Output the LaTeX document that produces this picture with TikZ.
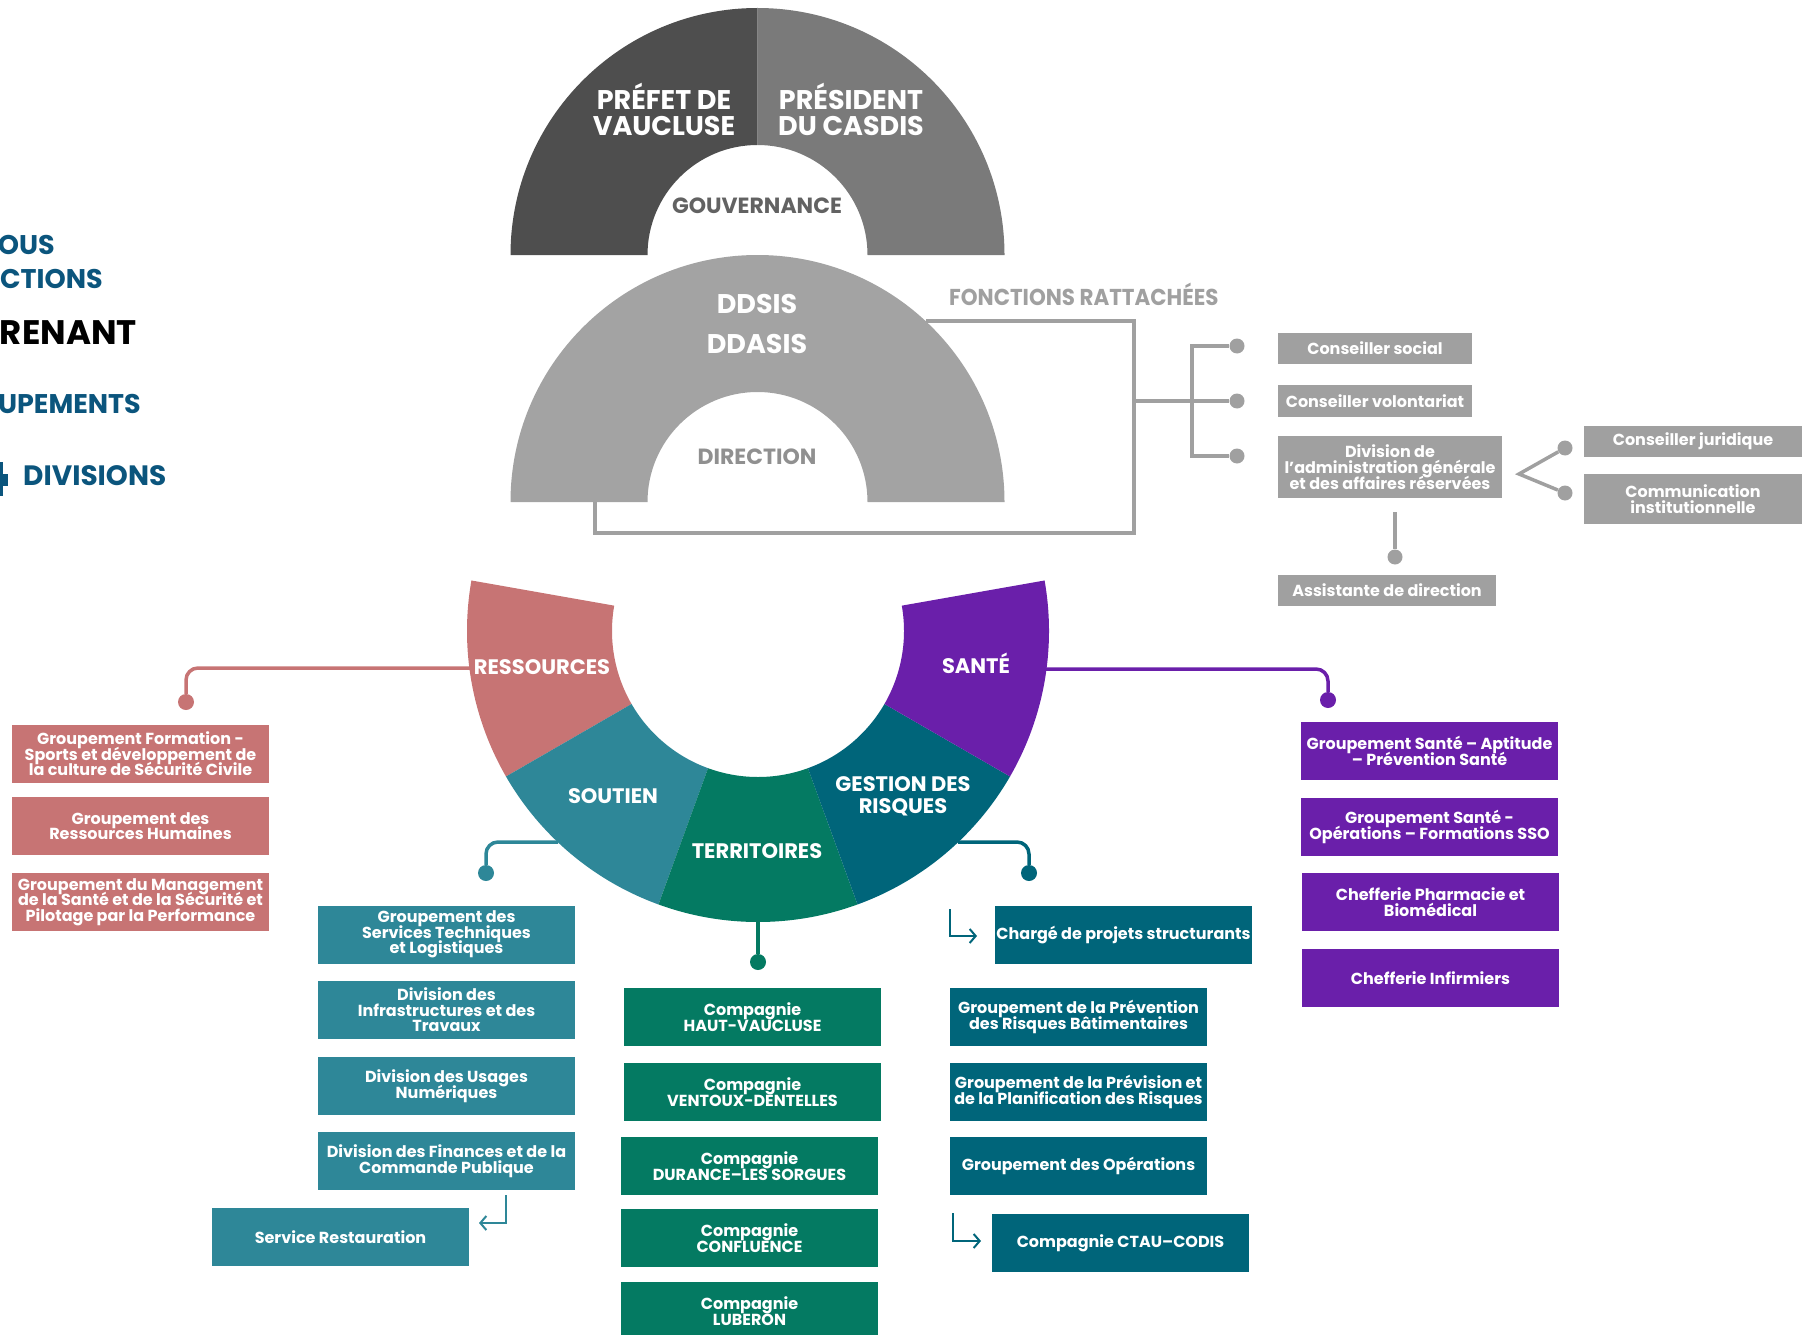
\documentclass[tikz,border=0pt]{standalone}
\usepackage{fontspec}
\setmainfont{Poppins}
\newfontfamily\headfont{Poppins}
\newfontfamily\etroitfont{Poppins}[FakeStretch=0.93]
\usetikzlibrary{arrows.meta}
\AtBeginDocument{\lineskiplimit=-100pt\relax}

\definecolor{prefet}{RGB}{78,78,78}
\definecolor{president}{RGB}{122,122,122}
\definecolor{gouv}{RGB}{98,98,98}
\definecolor{direction}{RGB}{163,163,163}
\definecolor{fonction}{RGB}{160,160,160}
\definecolor{ressources}{RGB}{199,116,116}
\definecolor{soutien}{RGB}{46,135,152}
\definecolor{territoires}{RGB}{4,122,98}
\definecolor{risques}{RGB}{0,101,122}
\definecolor{sante}{RGB}{106,31,170}
\definecolor{legende}{RGB}{11,85,125}

\tikzset{
  box/.style={fill=#1,text=white,align=center,inner sep=0pt,
    minimum width=257,minimum height=58,
    font=\bfseries\fontsize{16}{15.5}\selectfont},
  grisbox/.style={fill=fonction,text=white,align=center,inner sep=0pt,
    minimum height=31,font=\bfseries\fontsize{16}{16}\selectfont},
  dot/.style={circle,fill=#1,inner sep=0pt,minimum size=16},
  lien/.style={draw=#1,line width=3.5,rounded corners=12},
  fil/.style={draw=fonction,line width=3.5},
  renvoi/.style={draw=#1,line width=2,-{Straight Barb[length=6,width=14]}},
  anneau/.style={text=white,align=center,inner sep=0pt,
    font=\headfont\bfseries\fontsize{27}{26}\selectfont},
  pole/.style={text=white,align=center,inner sep=0pt,
    font=\headfont\bfseries\fontsize{21}{22}\selectfont},
  legendetxt/.style={text=legende,inner sep=0pt,
    font=\headfont\bfseries\fontsize{27}{27}\selectfont}
}

\begin{document}
\begin{tikzpicture}[x=1pt,y=-1pt]
  \useasboundingbox (0,0) rectangle (1813,1335);
  \clip (0,0) rectangle (1813,1335);

  % legende (coupee a gauche)
  \node[legendetxt,anchor=base east] (l1) at (55,254) {OUS};
  \node[legendetxt,anchor=base east] (l2) at (103,288) {CTIONS};
  \node[legendetxt,anchor=base east,text=black,
    font=\headfont\bfseries\fontsize{34}{34}\selectfont] (l3) at (137,344) {RENANT};
  \node[legendetxt,anchor=base east] (l4) at (141,413) {UPEMENTS};
  \node[legendetxt,anchor=base west,
    font=\headfont\bfseries\fontsize{28}{28}\selectfont] (l5) at (23,485) {DIVISIONS};
  \fill[legende] (0,462) rectangle (2.5,496);
  \fill[legende] (0,474) rectangle (8,486);

  % fonctions rattachees
  \coordinate (dirA) at (926,321);
  \coordinate (cadre) at (1134,533);
  \coordinate (dirB) at (595,502);
  \coordinate (embr) at (1134,401);
  \coordinate (barre) at (1192,401);
  \draw[fil] (dirA) -| (cadre) -| (dirB);
  \node[dot=fonction,minimum size=15] (p1) at (1237,346) {};
  \node[dot=fonction,minimum size=15] (p2) at (1237,401) {};
  \node[dot=fonction,minimum size=15] (p3) at (1237,456) {};
  \draw[fil] (p1) -| (barre) |- (p3);
  \draw[fil] (embr) -- (p2);

  % gouvernance
  \begin{scope}[shift={(757.5,255)}]
    \fill[prefet] (-247,0) arc[start angle=180,end angle=270,radius=247]
      -- (0,-110) arc[start angle=270,end angle=180,radius=110] -- cycle;
    \fill[president] (0,-247) arc[start angle=270,end angle=360,radius=247]
      -- (110,0) arc[start angle=360,end angle=270,radius=110] -- cycle;
  \end{scope}
  \node[anneau] (prefet) at (664,109) {PRÉFET DE\\VAUCLUSE};
  \node[anneau] (president) at (851,109) {PRÉSIDENT\\DU CASDIS};
  \node[anchor=base,inner sep=0pt,text=gouv,
    font=\headfont\bfseries\fontsize{22}{22}\selectfont] (gouvernance) at (757,213) {GOUVERNANCE};

  % direction
  \begin{scope}[shift={(757.5,502)}]
    \fill[direction] (-247,0) arc[start angle=180,end angle=360,radius=247]
      -- (110,0) arc[start angle=360,end angle=180,radius=110] -- cycle;
  \end{scope}
  \node[anneau,anchor=base,font=\headfont\bfseries\fontsize{27}{27}\selectfont] (ddsis) at (757,313) {DDSIS};
  \node[anneau,anchor=base,font=\headfont\bfseries\fontsize{27}{27}\selectfont] (ddasis) at (757,353) {DDASIS};
  \node[anchor=base,inner sep=0pt,text=fonction!90!black,
    font=\headfont\bfseries\fontsize{22}{22}\selectfont] (direction) at (757,464) {DIRECTION};
  \node[anchor=base west,inner sep=0pt,text=fonction,
    font=\etroitfont\bfseries\fontsize{23}{23}\selectfont] (rattachees) at (949,305) {FONCTIONS RATTACHÉES};

  \node[grisbox,minimum width=194] (social) at (1375,348.5) {Conseiller social};
  \node[grisbox,minimum width=194,minimum height=32] (volontariat) at (1375,401) {Conseiller volontariat};
  \node[grisbox,minimum width=224,minimum height=62] (dagar) at (1390,467)
    {Division de\\l’administration générale\\et des affaires réservées};
  \node[grisbox,minimum width=218] (juridique) at (1693,441.5) {Conseiller juridique};
  \node[grisbox,minimum width=218,minimum height=50] (communication) at (1693,499)
    {Communication\\institutionnelle};
  \node[grisbox,minimum width=218] (assistante) at (1387,590.5) {Assistante de direction};
  \coordinate (pointe) at (1519,474);
  \node[dot=fonction,minimum size=15] (q1) at (1565,448) {};
  \node[dot=fonction,minimum size=15] (q2) at (1565,493) {};
  \draw[fil] (q1) -- (pointe) -- (q2);
  \coordinate (r0) at (1395,512);
  \node[dot=fonction,minimum size=15] (r1) at (1395,557) {};
  \draw[fil] (r0) -- (r1);

  % liens des poles
  \coordinate (resA) at (470,668);
  \coordinate (souA) at (558,842);
  \coordinate (terA) at (758,918);
  \coordinate (risA) at (958,842);
  \coordinate (sanA) at (1046,669);
  \node[dot=ressources] (dres) at (186,702) {};
  \node[dot=soutien] (dsou) at (486,873) {};
  \node[dot=territoires] (dter) at (758,962) {};
  \node[dot=risques] (dris) at (1029,873) {};
  \node[dot=sante] (dsan) at (1328,700) {};
  \draw[lien=ressources] (resA) -| (dres);
  \draw[lien=soutien] (souA) -| (dsou);
  \draw[lien=territoires] (terA) -- (dter);
  \draw[lien=risques] (risA) -| (dris);
  \draw[lien=sante] (sanA) -| (dsan);

  % poles
  \begin{scope}[shift={(758,631)}]
    \fill[ressources] (190:291) arc[start angle=190,end angle=150,radius=291]
      -- (150:146) arc[start angle=150,end angle=190,radius=146] -- cycle;
    \fill[soutien] (150:291) arc[start angle=150,end angle=110,radius=291]
      -- (110:146) arc[start angle=110,end angle=150,radius=146] -- cycle;
    \fill[territoires] (110:291) arc[start angle=110,end angle=70,radius=291]
      -- (70:146) arc[start angle=70,end angle=110,radius=146] -- cycle;
    \fill[risques] (70:291) arc[start angle=70,end angle=30,radius=291]
      -- (30:146) arc[start angle=30,end angle=70,radius=146] -- cycle;
    \fill[sante] (30:291) arc[start angle=30,end angle=-10,radius=291]
      -- (-10:146) arc[start angle=-10,end angle=30,radius=146] -- cycle;
  \end{scope}
  \node[pole,anchor=base] (ressources) at (542,674) {RESSOURCES};
  \node[pole,anchor=base] (santep) at (976,673) {SANTÉ};
  \node[pole,anchor=base] (soutienp) at (613,803) {SOUTIEN};
  \node[pole,anchor=base] (territoiresp) at (757,858) {TERRITOIRES};
  \node[pole] (risquesp) at (903,796) {GESTION DES\\RISQUES};

  % ressources
  \node[box=ressources] (formation) at (140.5,754)
    {Groupement Formation -\\Sports et développement de\\la culture de Sécurité Civile};
  \node[box=ressources] (rh) at (140.5,826) {Groupement des\\Ressources Humaines};
  \node[box=ressources] (management) at (140.5,902)
    {Groupement du Management\\de la Santé et de la Sécurité et\\Pilotage par la Performance};

  % soutien
  \node[box=soutien] (logistique) at (446.5,934.5)
    {Groupement des\\Services Techniques\\et Logistiques};
  \node[box=soutien] (travaux) at (446.5,1010)
    {Division des\\Infrastructures et des\\Travaux};
  \node[box=soutien] (numerique) at (446.5,1086) {Division des Usages\\Numériques};
  \node[box=soutien] (finances) at (446.5,1161)
    {Division des Finances et de la\\Commande Publique};
  \node[box=soutien] (restauration) at (340.5,1237) {Service Restauration};
  \coordinate (retA) at (506,1195);
  \coordinate (retB) at (479,1223);
  \draw[renvoi=soutien] (retA) |- (retB);

  % territoires
  \node[box=territoires] (hautvaucluse) at (752.5,1017) {Compagnie\\HAUT-VAUCLUSE};
  \node[box=territoires] (ventoux) at (752.5,1092) {Compagnie\\VENTOUX-DENTELLES};
  \node[box=territoires] (durance) at (749.5,1166) {Compagnie\\DURANCE–LES SORGUES};
  \node[box=territoires] (confluence) at (749.5,1238) {Compagnie\\CONFLUENCE};
  \node[box=territoires] (luberon) at (749.5,1311) {Compagnie\\LUBERON};

  % gestion des risques
  \node[box=risques] (projets) at (1123.5,935) {Chargé de projets structurants};
  \node[box=risques] (prevention) at (1078.5,1017)
    {Groupement de la Prévention\\des Risques Bâtimentaires};
  \node[box=risques] (prevision) at (1078.5,1092)
    {Groupement de la Prévision et\\de la Planification des Risques};
  \node[box=risques] (operations) at (1078.5,1166) {Groupement des Opérations};
  \node[box=risques] (codis) at (1120.5,1243) {Compagnie CTAU–CODIS};
  \coordinate (fleA) at (950,909);
  \coordinate (fleB) at (977,936);
  \coordinate (fleC) at (953,1213);
  \coordinate (fleD) at (981,1241);
  \draw[renvoi=risques] (fleA) |- (fleB);
  \draw[renvoi=risques] (fleC) |- (fleD);

  % sante
  \node[box=sante] (aptitude) at (1429.5,751)
    {Groupement Santé – Aptitude\\– Prévention Santé};
  \node[box=sante] (sso) at (1429.5,827)
    {Groupement Santé -\\Opérations – Formations SSO};
  \node[box=sante] (pharmacie) at (1430.5,902) {Chefferie Pharmacie et\\Biomédical};
  \node[box=sante] (infirmiers) at (1430.5,978) {Chefferie Infirmiers};
\end{tikzpicture}
\end{document}
